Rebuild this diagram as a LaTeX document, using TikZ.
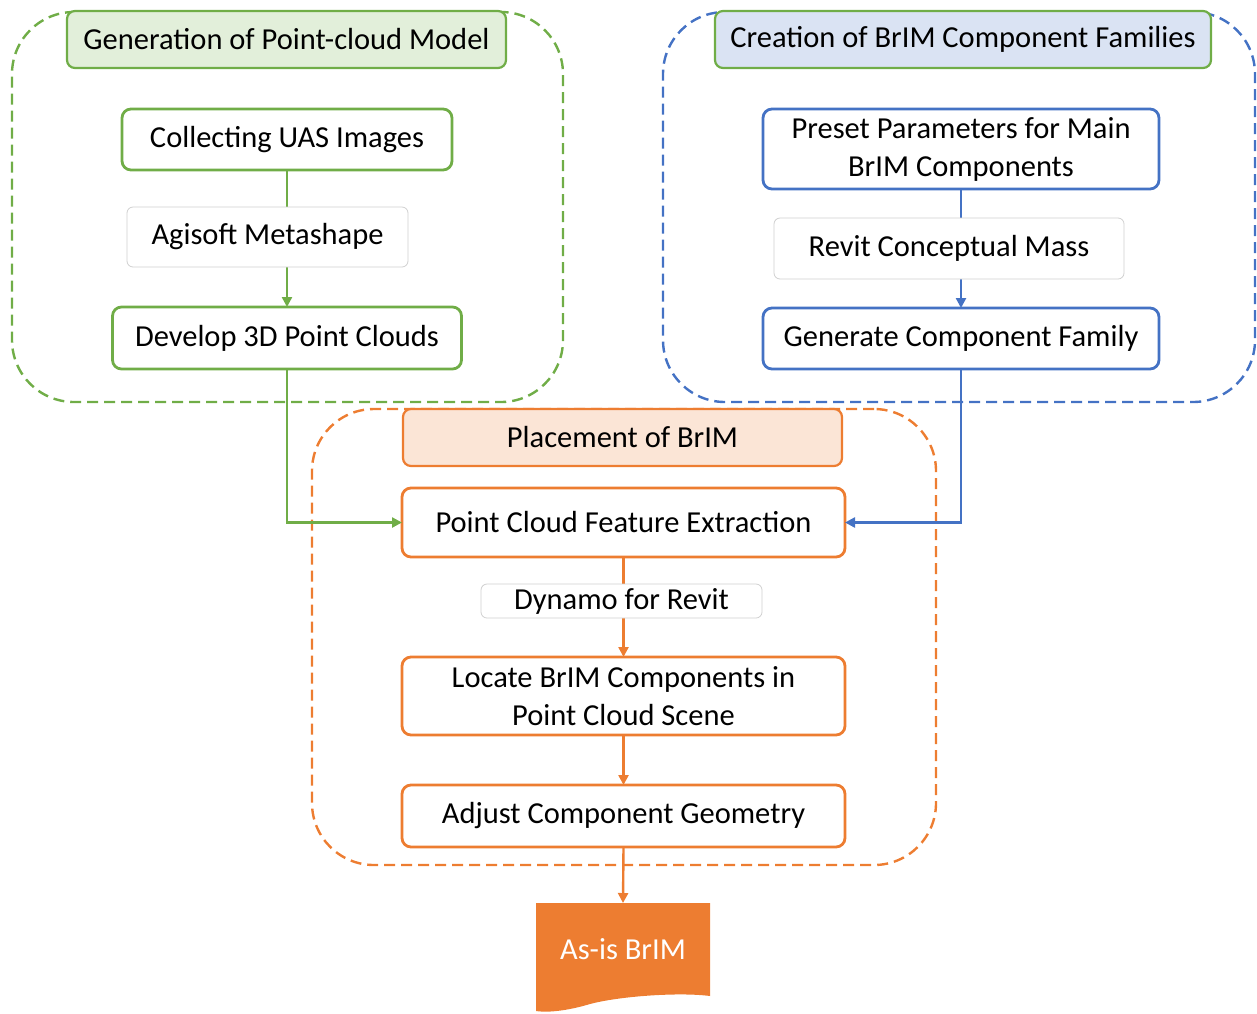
\documentclass[tikz,border=0pt]{standalone}
\usepackage{fontspec}
\setmainfont{Carlito}
\usetikzlibrary{arrows.meta,calc}
\definecolor{cgreen}{HTML}{70AD47}
\definecolor{lgreen}{HTML}{E2EFDA}
\definecolor{cblue}{HTML}{4472C4}
\definecolor{lblue}{HTML}{DAE3F3}
\definecolor{corange}{HTML}{ED7D31}
\definecolor{lorange}{HTML}{FBE5D6}
\definecolor{cgray}{HTML}{D0D0D0}
\begin{document}
\begin{tikzpicture}[x=1pt,y=-1pt,
  every node/.style={font=\fontsize{30.5}{38}\selectfont, inner sep=0pt, outer sep=0pt},
  container/.style={draw, line width=2.4pt, dash pattern=on 11pt off 6pt, rounded corners=62pt, rectangle},
  header/.style={draw, line width=2.2pt, rounded corners=8pt, rectangle},
  stepbox/.style={draw, line width=2.8pt, rounded corners=9pt, rectangle, fill=white, align=center},
  tool/.style={draw=cgray, line width=0.8pt, rounded corners=6pt, rectangle, fill=white},
  link/.style={line width=2.4pt, -{Triangle[length=10pt,width=10pt]}},
  plain/.style={line width=2.4pt}
]
\useasboundingbox (0,0) rectangle (1257,1013);

% containers
\node[container, draw=cgreen, minimum width=551pt, minimum height=390pt] (gcont) at (287.5,207) {};
\node[container, draw=cblue, minimum width=592pt, minimum height=390pt] (bcont) at (959,207) {};
\node[container, draw=corange, minimum width=624pt, minimum height=456pt] (ocont) at (624,637) {};

% headers
\node[header, draw=cgreen, fill=lgreen, minimum width=439pt, minimum height=57pt] (ghead) at (286.5,39.5) {Generation of Point-cloud Model};
\node[header, draw=cgreen, fill=lblue, minimum width=496pt, minimum height=57pt] (bhead) at (963,39.5) {Creation of BrIM Component Families};
\node[header, draw=corange, fill=lorange, minimum width=439pt, minimum height=57pt] (ohead) at (622.5,437.5) {Placement of BrIM};

% green column
\node[stepbox, draw=cgreen, minimum width=330pt, minimum height=61pt] (collect) at (287,139.5) {Collecting UAS Images};
\node[stepbox, draw=cgreen, minimum width=349pt, minimum height=62pt] (develop) at (287,338) {Develop 3D Point Clouds};
\draw[link, cgreen] (collect.south) -- (develop.north);
\node[tool, minimum width=281pt, minimum height=60pt] (agisoft) at (267.5,237) {Agisoft Metashape};

% blue column
\node[stepbox, draw=cblue, minimum width=396pt, minimum height=80pt] (preset) at (961,149) {Preset Parameters for Main\\BrIM Components};
\node[stepbox, draw=cblue, minimum width=396pt, minimum height=61pt] (generate) at (961,338.5) {Generate Component Family};
\draw[link, cblue] (preset.south) -- (generate.north);
\node[tool, minimum width=350pt, minimum height=61pt] (revit) at (949,248.5) {Revit Conceptual Mass};

% orange column
\node[stepbox, draw=corange, minimum width=443pt, minimum height=69pt] (pcfe) at (623.5,522.5) {Point Cloud Feature Extraction};
\node[stepbox, draw=corange, minimum width=443pt, minimum height=78pt] (locate) at (623.5,696) {Locate BrIM Components in\\Point Cloud Scene};
\node[stepbox, draw=corange, minimum width=443pt, minimum height=62pt] (adjust) at (623.5,816) {Adjust Component Geometry};
\draw[link, corange] (pcfe.south) -- (locate.north);
\node[tool, minimum width=281pt, minimum height=34pt] (dynamo) at (621.5,601) {Dynamo for Revit};
\draw[link, corange] (locate.south) -- (adjust.north);

% output document
\node[minimum width=174pt, minimum height=93pt] (asis) at (623,949.5) {};
\fill[corange] (asis.north west) -- (asis.north east) -- ($(asis.north east)+(0,93)$)
  .. controls (680,992) and (620,996) .. (590,1004)
  .. controls (570,1010) and (550,1013) .. ($(asis.north west)+(0,108)$) -- cycle;
\node[text=white] (asistext) at (asis.center) {As-is BrIM};
\draw[link, corange] (adjust.south) -- (asis.north);

% cross links
\draw[link, cgreen] (develop.south) |- (pcfe.west);
\draw[link, cblue] (generate.south) |- (pcfe.east);
\end{tikzpicture}
\end{document}
